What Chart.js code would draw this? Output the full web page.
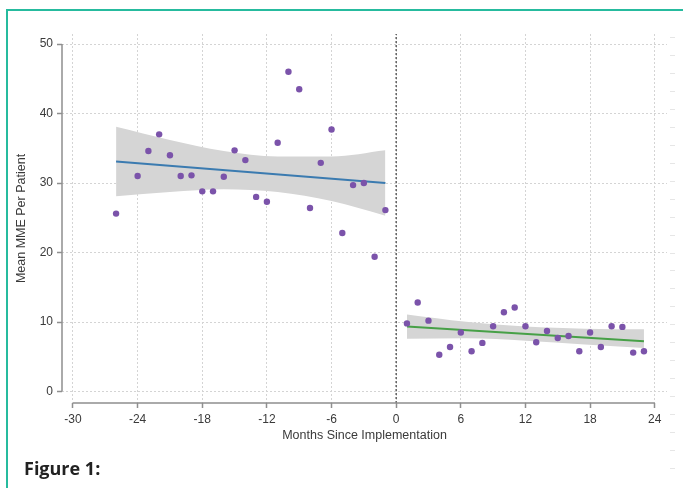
<!DOCTYPE html>
<html>
<head>
<meta charset="utf-8">
<script src="https://cdn.jsdelivr.net/npm/chart.js@4/dist/chart.umd.min.js"></script>
<style>
  html, body { margin: 0; padding: 0; background: #ffffff; }
  body { width: 683px; height: 488px; position: relative; overflow: hidden; }
  #frame { position: absolute; left: 6px; top: 9px; width: 700px; height: 500px;
           border-top: 2px solid #26bb9e; border-left: 2px solid #26bb9e; }
  #ruler { position: absolute; left: 670px; top: 37px; width: 5px; height: 440px;
           background: repeating-linear-gradient(to bottom, #e6e6e6 0px, #e6e6e6 1px, transparent 1px, transparent 17.96px); }
  #chart { position: absolute; left: 0; top: 0; }
  #caption { position: absolute; left: 24px; top: 458px; font: bold 18px "Open Sans", sans-serif;
             line-height: 20px; color: #222; }
</style>
</head>
<body>
<div id="frame"></div>
<div id="ruler"></div>
<canvas id="chart" width="683" height="488"></canvas>
<div id="caption">Figure 1:</div>
<script>
// ---- data ----
const preMonths  = [-26, -24, -23, -22, -21, -20, -19, -18, -17, -16, -15, -14, -13, -12, -11, -10, -9, -8, -7, -6, -5, -4, -3, -2, -1];
const preValues  = [25.6, 31.0, 34.6, 37.0, 34.0, 31.0, 31.1, 28.8, 28.8, 30.9, 34.7, 33.3, 28.0, 27.3, 35.8, 46.0, 43.5, 26.4, 32.9, 37.7, 22.8, 29.7, 30.0, 19.4, 26.1];
const postMonths = [1, 2, 3, 4, 5, 6, 7, 8, 9, 10, 11, 12, 13, 14, 15, 16, 17, 18, 19, 20, 21, 22, 23];
const postValues = [9.8, 12.8, 10.2, 5.3, 6.4, 8.5, 5.8, 7.0, 9.4, 11.4, 12.1, 9.4, 7.1, 8.7, 7.7, 8.0, 5.8, 8.5, 6.4, 9.4, 9.3, 5.6, 5.8];

const preFitX  = [-26, -1];
const preFitY  = [33.1, 30.0];
const postFitX = [1, 23];
const postFitY = [9.35, 7.25];

const preBandX     = [-26, -21, -16, -11, -6, -1];
const preBandUpper = [38.1, 36.2, 34.6, 33.8, 33.8, 34.7];
const preBandLower = [28.1, 28.7, 29.1, 28.7, 27.4, 25.3];
const postBandX     = [1, 6.5, 12, 17.5, 23];
const postBandUpper = [11.1, 10.05, 9.35, 9.05, 8.95];
const postBandLower = [7.6, 7.65, 7.3, 6.75, 6.25];

const cutoffMonth = 0;
const xTicks = [-30, -24, -18, -12, -6, 0, 6, 12, 18, 24];
const yTicks = [0, 10, 20, 30, 40, 50];
const xLabel = 'Months Since Implementation';
const yLabel = 'Mean MME Per Patient';

// ---- helpers ----
const pts = (xs, ys) => xs.map((x, i) => ({ x: x, y: ys[i] }));
const X_MIN = -31.02, X_MAX = 25.14, Y_MIN = -1.65, Y_MAX = 51.44;

const TEXT = '#3a3a3a';
const AXIS = '#8f8f8f';
const GRID = '#d4d4d4';
const BAND = '#d5d5d5';
const DOT = '#7b53aa';

const axisLines = {
  id: 'axisLines',
  afterDatasetsDraw(chart) {
    const { ctx, chartArea, scales } = chart;
    const xs = scales.x, ys = scales.y;
    ctx.save();
    ctx.strokeStyle = AXIS;
    ctx.lineWidth = 1.5;
    ctx.beginPath();
    ctx.moveTo(xs.getPixelForValue(xTicks[0]), chartArea.bottom);
    ctx.lineTo(xs.getPixelForValue(xTicks[xTicks.length - 1]), chartArea.bottom);
    ctx.moveTo(chartArea.left, ys.getPixelForValue(yTicks[0]));
    ctx.lineTo(chartArea.left, ys.getPixelForValue(yTicks[yTicks.length - 1]));
    ctx.stroke();
    ctx.restore();
  }
};

const lineDs = (data, extra) => Object.assign({
  type: 'line', data: data, showLine: true, pointRadius: 0, borderWidth: 0,
  cubicInterpolationMode: 'monotone', fill: false
}, extra);

new Chart(document.getElementById('chart'), {
  type: 'scatter',
  data: {
    datasets: [
      lineDs(pts(preBandX, preBandUpper), { fill: '+1', backgroundColor: BAND, borderColor: BAND, order: 5 }),
      lineDs(pts(preBandX, preBandLower), { backgroundColor: BAND, borderColor: BAND, order: 5 }),
      lineDs(pts(postBandX, postBandUpper), { fill: '+1', backgroundColor: BAND, borderColor: BAND, order: 5 }),
      lineDs(pts(postBandX, postBandLower), { backgroundColor: BAND, borderColor: BAND, order: 5 }),
      lineDs([{ x: cutoffMonth, y: Y_MIN }, { x: cutoffMonth, y: Y_MAX }],
             { borderColor: '#555555', borderWidth: 1.4, borderDash: [2, 2], cubicInterpolationMode: 'default', tension: 0, order: 4 }),
      lineDs(pts(preFitX, preFitY), { borderColor: '#3b7bb0', borderWidth: 2, cubicInterpolationMode: 'default', tension: 0, order: 2 }),
      lineDs(pts(postFitX, postFitY), { borderColor: '#47a047', borderWidth: 2, cubicInterpolationMode: 'default', tension: 0, order: 2 }),
      { type: 'scatter', data: pts(preMonths, preValues), pointRadius: 3.2, pointBackgroundColor: DOT,
        pointBorderColor: DOT, pointBorderWidth: 0, order: 0 },
      { type: 'scatter', data: pts(postMonths, postValues), pointRadius: 3.2, pointBackgroundColor: DOT,
        pointBorderColor: DOT, pointBorderWidth: 0, order: 0 }
    ]
  },
  options: {
    responsive: false,
    animation: false,
    devicePixelRatio: 1,
    layout: { padding: { top: 34, right: 16, left: 0, bottom: 0 } },
    plugins: {
      legend: { display: false },
      tooltip: { enabled: false },
      filler: { drawTime: 'beforeDatasetsDraw' }
    },
    scales: {
      x: {
        type: 'linear', min: X_MIN, max: X_MAX,
        afterBuildTicks: s => { s.ticks = xTicks.map(v => ({ value: v })); },
        afterFit: s => { s.height = 85; },
        ticks: { color: TEXT, font: { family: 'Liberation Sans', size: 12 }, padding: 4, autoSkip: false, maxRotation: 0 },
        grid: { color: GRID, lineWidth: 1, drawTicks: true, tickLength: 5, tickColor: AXIS, tickWidth: 1.5, tickBorderDash: [] },
        border: { display: false, dash: [2, 2] },
        title: { display: true, text: xLabel, color: TEXT, font: { family: 'Liberation Sans', size: 12.5 },
                 padding: { top: 0, bottom: 45 } }
      },
      y: {
        type: 'linear', min: Y_MIN, max: Y_MAX,
        afterBuildTicks: s => { s.ticks = yTicks.map(v => ({ value: v })); },
        afterFit: s => { s.width = 62; },
        ticks: { color: TEXT, font: { family: 'Liberation Sans', size: 12 }, padding: 4 },
        grid: { color: GRID, lineWidth: 1, drawTicks: true, tickLength: 5, tickColor: AXIS, tickWidth: 1.5, tickBorderDash: [] },
        border: { display: false, dash: [2, 2] },
        title: { display: true, text: yLabel, color: TEXT, font: { family: 'Liberation Sans', size: 12.5 },
                 padding: { top: 14.2, bottom: 0 } }
      }
    }
  },
  plugins: [axisLines]
});
</script>
</body>
</html>
